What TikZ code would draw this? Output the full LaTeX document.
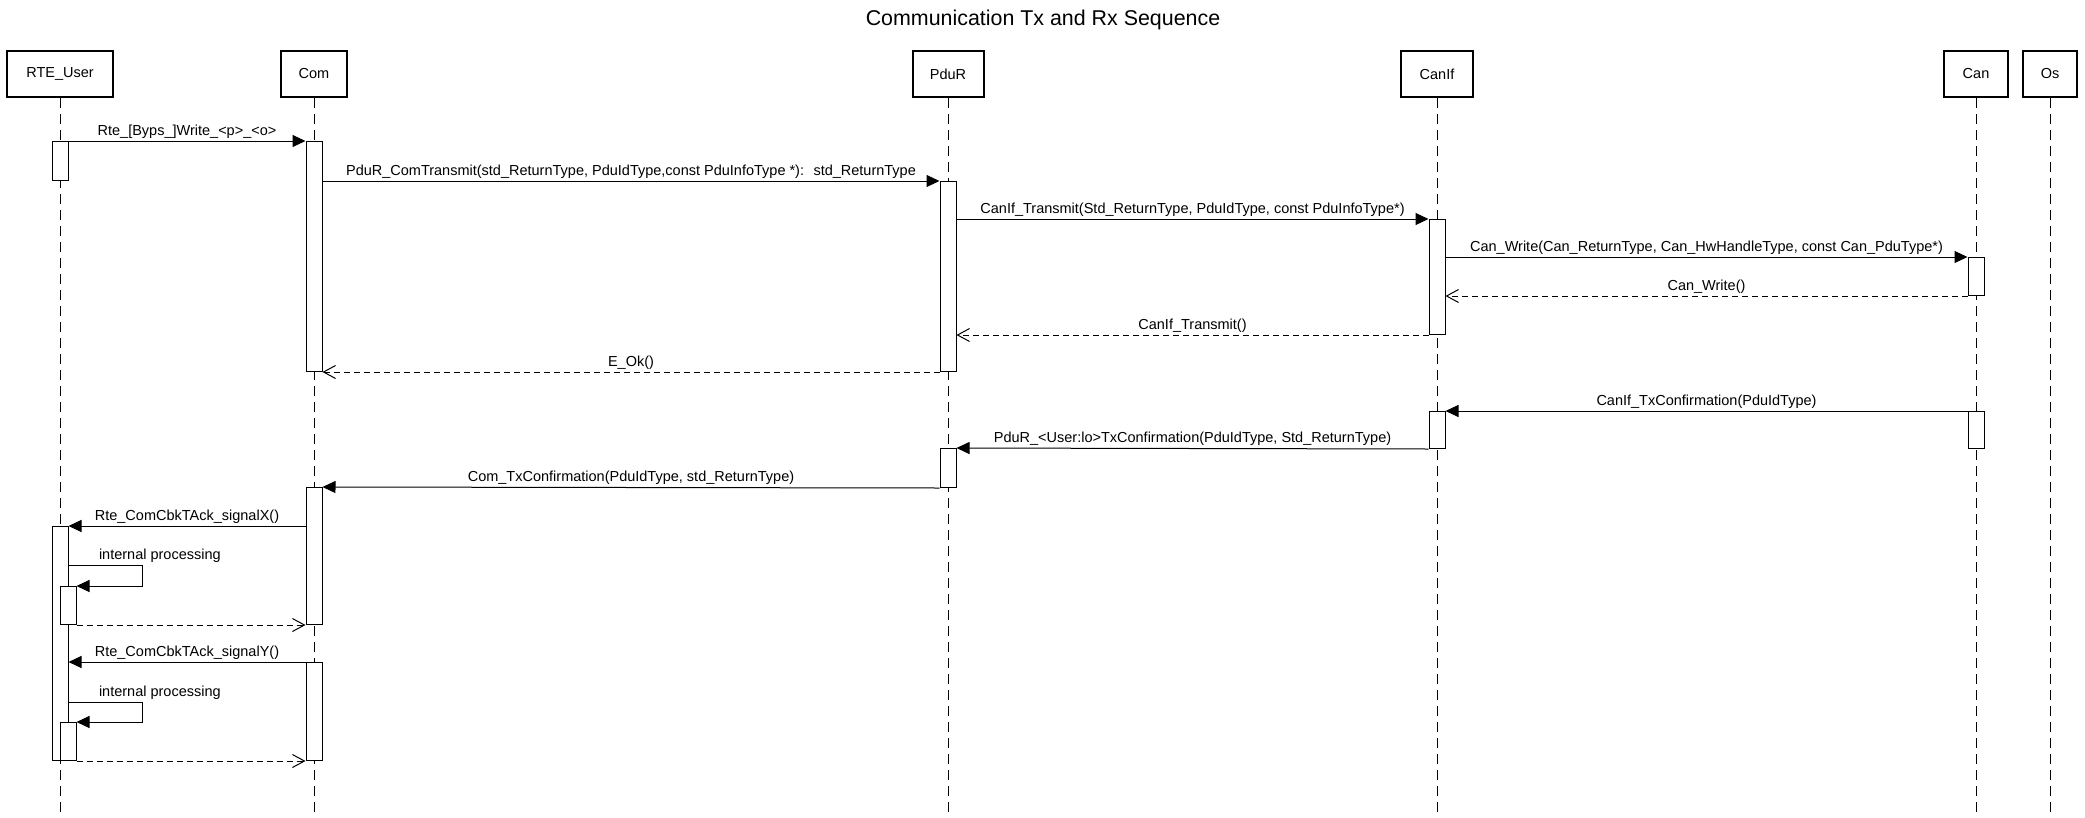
\documentclass[tikz,border=0pt]{standalone}
\usepackage{fontspec}
\setmainfont{Liberation Sans}
\usetikzlibrary{arrows.meta,positioning}
\newcommand{\seqfont}{\fontsize{14.5pt}{17pt}\selectfont}
\newcommand{\titlefont}{\fontsize{21.4pt}{25pt}\selectfont}

\begin{document}
\begin{tikzpicture}[x=1pt,y=-1pt]
\tikzstyle{actor}=[rectangle,draw=black,line width=2pt,
inner sep=0pt,minimum height=46pt,font=\seqfont]
\tikzstyle{act}=[rectangle,draw=black,line width=1pt,fill=white,
anchor=north,inner sep=0pt,minimum width=16pt]
\tikzstyle{lifeline}=[line width=1pt,dash pattern=on 10pt off 6pt]
\tikzstyle{msg}=[line width=1pt,-{Triangle[length=13pt,width=12pt]}]
\tikzstyle{ret}=[line width=1pt,dash pattern=on 6pt off 4pt,
-{Straight Barb[length=12pt,width=13pt]}]
\tikzstyle{lab}=[above,inner xsep=0pt,inner ysep=2.5pt,
text height=10.5pt,text depth=3pt,font=\seqfont]

\useasboundingbox (0,0) rectangle (2085,817);
\node[font=\titlefont,anchor=base] (title) at (1043,25) {Communication Tx and Rx Sequence};

% participants
\node[actor,minimum width=106pt] (rte) at (60,74) {RTE\_User};
\node[actor,minimum width=66pt] (com) at (314,74) {Com};
\node[actor,minimum width=71pt] (pdur) at (948,74) {PduR};
\node[actor,minimum width=72pt] (canif) at (1437,74) {CanIf};
\node[actor,minimum width=64pt] (can) at (1976,74) {Can};
\node[actor,minimum width=54pt] (os) at (2050,74) {Os};

\coordinate (bottom) at (0,817);
\draw[lifeline] (rte) -- (rte |- bottom);
\draw[lifeline] (com) -- (com |- bottom);
\draw[lifeline] (pdur) -- (pdur |- bottom);
\draw[lifeline] (canif) -- (canif |- bottom);
\draw[lifeline] (can) -- (can |- bottom);
\draw[lifeline] (os) -- (os |- bottom);

% activations
\node[act,minimum height=39pt] (rte1) at (60,141) {};
\node[act,minimum height=230pt] (com1) at (314,141) {};
\node[act,minimum height=190pt] (pdur1) at (948,181) {};
\node[act,minimum height=115pt] (canif1) at (1437,219) {};
\node[act,minimum height=38pt] (can1) at (1976,257) {};
\node[act,minimum height=37pt] (can2) at (1976,411) {};
\node[act,minimum height=37pt] (canif2) at (1437,411) {};
\node[act,minimum height=39pt] (pdur2) at (948,448) {};
\node[act,minimum height=137pt] (com2) at (314,487) {};
\node[act,minimum height=234pt] (rte2) at (60,526) {};
\node[act,minimum height=38pt] (rte3) at (68,586) {};
\node[act,minimum height=98pt] (com3) at (314,662) {};
\node[act,minimum height=38pt] (rte4) at (68,722) {};

% transmit
\draw[msg] (rte1.north east) -- node[lab] {Rte\_[Byps\_]Write\_<p>\_<o>} (com1.north west);
\draw[msg] (com1.east |- pdur1.north) -- node[lab] {PduR\_ComTransmit(std\_ReturnType, PduIdType,const PduInfoType *): \ std\_ReturnType} (pdur1.north west);
\draw[msg] (pdur1.east |- canif1.north) -- node[lab] {CanIf\_Transmit(Std\_ReturnType, PduIdType, const PduInfoType*)} (canif1.north west);
\draw[msg] (canif1.east |- can1.north) -- node[lab] {Can\_Write(Can\_ReturnType, Can\_HwHandleType, const Can\_PduType*)} (can1.north west);
\draw[ret] (can1.south west) -- node[lab] {Can\_Write()} (canif1.east |- can1.south);
\draw[ret] (canif1.south west) -- node[lab] {CanIf\_Transmit()} (pdur1.east |- canif1.south);
\draw[ret] (pdur1.south west) -- node[lab] {E\_Ok()} (com1.south east);

% confirmation
\draw[msg] (can2.north west) -- node[lab] {CanIf\_TxConfirmation(PduIdType)} (canif2.north east);
\draw[msg] (canif2.south west) -- node[lab] {PduR\_<User:lo>TxConfirmation(PduIdType, Std\_ReturnType)} (pdur2.north east);
\draw[msg] (pdur2.south west) -- node[lab] {Com\_TxConfirmation(PduIdType, std\_ReturnType)} (com2.north east);

% callbacks
\draw[msg] (com2.west |- rte2.north) -- node[lab] {Rte\_ComCbkTAck\_signalX()} (rte2.north east);
\draw[msg] ([yshift=-39pt]rte2.north east) node[lab,anchor=south west,xshift=30pt] {internal processing} -- ++(74,0) |- (rte3.north east);
\draw[ret] (rte3.south east) -- (com2.south west);
\draw[msg] (com3.north west) -- node[lab] {Rte\_ComCbkTAck\_signalY()} (rte2.east |- com3.north);
\draw[msg] ([yshift=-176pt]rte2.north east) node[lab,anchor=south west,xshift=30pt] {internal processing} -- ++(74,0) |- (rte4.north east);
\draw[ret] (rte4.south east) -- (com3.south west);

\end{tikzpicture}
\end{document}
